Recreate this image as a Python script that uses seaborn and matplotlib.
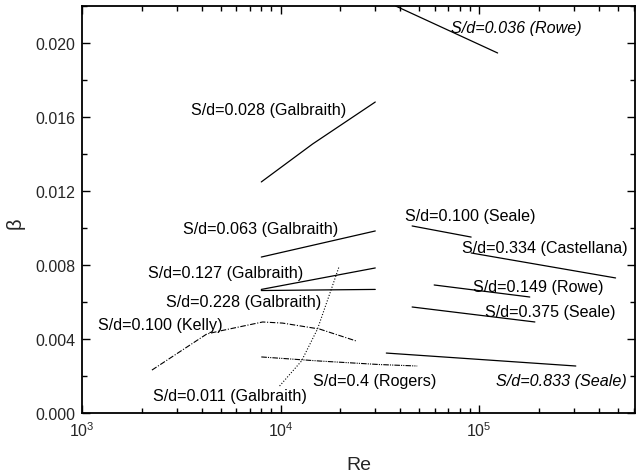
import numpy as np
import pandas as pd
import matplotlib
matplotlib.use("Agg")
import matplotlib.pyplot as plt
import seaborn as sns
from matplotlib.ticker import LogLocator, MultipleLocator, NullFormatter, FormatStrFormatter

# ---------------- data ----------------
rowe036_re = [38000, 124000]
rowe036_b = [0.0220, 0.01946]

galb028_re = [8000, 14500, 30000]
galb028_b = [0.01249, 0.01454, 0.01681]

galb063_re = [8000, 30000]
galb063_b = [0.00843, 0.00984]

galb127_re = [8000, 30000]
galb127_b = [0.00668, 0.00784]

galb228_re = [8000, 30000]
galb228_b = [0.00662, 0.00668]

kelly_re = [2250, 4250, 4930, 8130, 10240, 15700, 24100]
kelly_b = [0.00232, 0.00427, 0.00443, 0.00492, 0.00486, 0.00454, 0.00389]

galb011_re = [9890, 12750, 15350, 18030, 19770]
galb011_b = [0.00146, 0.00281, 0.00454, 0.00670, 0.00795]

rogers_re = [8000, 15700, 31400, 48800]
rogers_b = [0.00303, 0.00281, 0.00262, 0.00254]

seale833_re = [34100, 307000]
seale833_b = [0.00324, 0.00254]

seale375_re = [46000, 191000]
seale375_b = [0.00573, 0.00492]

rowe149_re = [59400, 180000]
rowe149_b = [0.00692, 0.00627]

castellana_re = [91200, 487000]
castellana_b = [0.00865, 0.00730]

seale100_re = [46000, 91200]
seale100_b = [0.01011, 0.00951]

label_texts = [
    "S/d=0.036 (Rowe)", "S/d=0.028 (Galbraith)", "S/d=0.063 (Galbraith)",
    "S/d=0.127 (Galbraith)", "S/d=0.228 (Galbraith)", "S/d=0.100 (Kelly)",
    "S/d=0.011 (Galbraith)", "S/d=0.4 (Rogers)", "S/d=0.833 (Seale)",
    "S/d=0.375 (Seale)", "S/d=0.149 (Rowe)", "S/d=0.334 (Castellana)",
    "S/d=0.100 (Seale)",
]

xticks_major = [1e3, 1e4, 1e5]
yticks_major = [0.000, 0.004, 0.008, 0.012, 0.016, 0.020]

# ---------------- styles / layout ----------------
series = [
    (rowe036_re, rowe036_b, "solid"),
    (galb028_re, galb028_b, "solid"),
    (galb063_re, galb063_b, "solid"),
    (galb127_re, galb127_b, "solid"),
    (galb228_re, galb228_b, "solid"),
    (kelly_re, kelly_b, "dashdot"),
    (galb011_re, galb011_b, "dot"),
    (rogers_re, rogers_b, "dashdotdot"),
    (seale833_re, seale833_b, "solid"),
    (seale375_re, seale375_b, "solid"),
    (rowe149_re, rowe149_b, "solid"),
    (castellana_re, castellana_b, "solid"),
    (seale100_re, seale100_b, "solid"),
]
dash_map = {
    "solid": None,
    "dashdot": (5, 1.5, 1, 1.5),
    "dot": (1, 1.6),
    "dashdotdot": (5, 1, 1, 1, 1, 1),
}

# label placement (x in Re, y in beta, horizontal alignment, italic)
label_pos = [
    (72300, 0.02086, "left", True),
    (3530, 0.01643, "left", False),
    (3220, 0.00995, "left", False),
    (2150, 0.00757, "left", False),
    (2640, 0.00605, "left", False),
    (1200, 0.00476, "left", False),
    (2270, 0.00097, "left", False),
    (60800, 0.00178, "right", False),
    (554000, 0.00178, "right", True),
    (107000, 0.00551, "left", False),
    (93300, 0.00686, "left", False),
    (82200, 0.00897, "left", False),
    (42500, 0.01065, "left", False),
]

sns.set_theme(style="ticks")
plt.rcParams["font.family"] = ["Liberation Sans", "DejaVu Sans"]
plt.rcParams["mathtext.fontset"] = "custom"
plt.rcParams["mathtext.rm"] = "Liberation Sans"
plt.rcParams["mathtext.it"] = "Liberation Sans:italic"

fig = plt.figure(figsize=(6.4, 4.77), dpi=100)
ax = fig.add_axes([82 / 640, 1 - 414 / 477, (635 - 82) / 640, (414 - 7) / 477])
ax.set_xscale("log")

for re_vals, b_vals, style in series:
    df = pd.DataFrame({"Re": re_vals, "beta": b_vals})
    n_before = len(ax.lines)
    sns.lineplot(data=df, x="Re", y="beta", ax=ax, color="black",
                 lw=0.9, sort=False, estimator=None)
    d = dash_map[style]
    if d is not None:
        for ln in ax.lines[n_before:]:
            ln.set_dashes(d)
            ln.set_linewidth(0.8)

for txt, (x, y, ha, it) in zip(label_texts, label_pos):
    ax.text(x, y, txt, ha=ha, va="center", fontsize=11.6, color="black",
            style="italic" if it else "normal")

ax.set_xlim(1e3, 6.1e5)
ax.set_ylim(0.0, 0.022)
ax.xaxis.set_major_locator(LogLocator(base=10, numticks=10))
ax.xaxis.set_minor_locator(LogLocator(base=10, subs=np.arange(2, 10), numticks=20))
ax.xaxis.set_minor_formatter(NullFormatter())
ax.set_yticks(yticks_major)
ax.yaxis.set_minor_locator(MultipleLocator(0.002))
ax.yaxis.set_major_formatter(FormatStrFormatter("%.3f"))

ax.tick_params(which="both", direction="in", top=True, right=True,
               color="black", width=1.0)
ax.tick_params(which="major", length=6, labelsize=11.5, pad=5)
ax.tick_params(which="minor", length=3.5)
for s in ax.spines.values():
    s.set_linewidth(1.3)
    s.set_color("black")

ax.set_xlabel("Re", fontsize=14)
ax.xaxis.set_label_coords(0.5, -0.105)
ax.set_ylabel("β", fontsize=14.5)
ax.yaxis.set_label_coords(-0.103, 0.469)

fig.savefig("out.png", dpi=100)
